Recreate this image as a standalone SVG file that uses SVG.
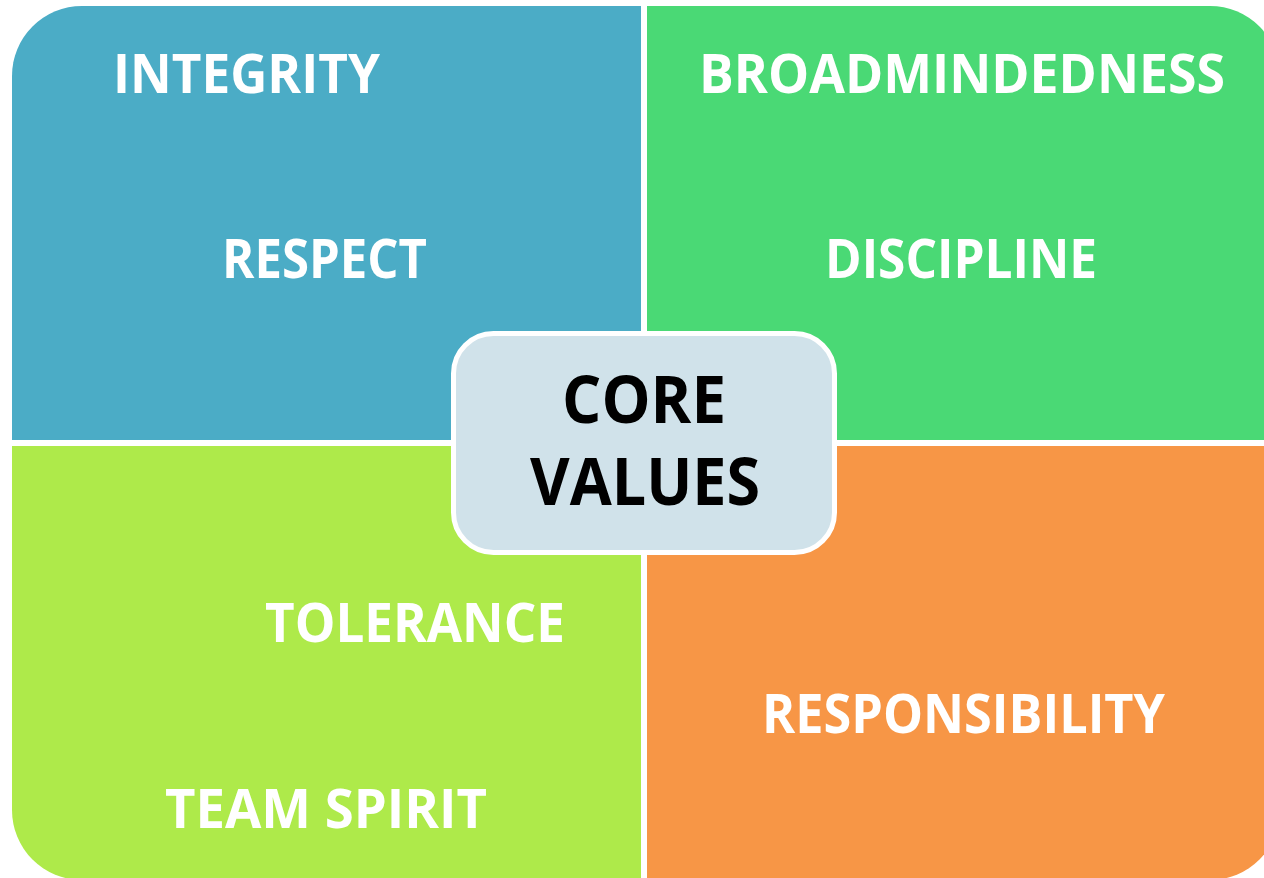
<svg xmlns="http://www.w3.org/2000/svg" width="1264" height="878" viewBox="0 0 1264 878">
  <style>
    .lbl { font-family: "Open Sans", "Liberation Sans", sans-serif; font-weight: bold; font-size: 54px; fill: #ffffff; }
    .core { font-family: "Open Sans", "Liberation Sans", sans-serif; font-weight: bold; font-size: 67px; fill: #000000; text-anchor: middle; }
  </style>
  <rect width="1264" height="878" fill="#ffffff"/>
  <g id="integrity-respect">
    <path d="M12,440 L12,76 A70,70 0 0 1 82,6 L641,6 L641,440 Z" fill="#4bacc6"/>
    <text class="lbl" x="113" y="93" textLength="267" lengthAdjust="spacingAndGlyphs">INTEGRITY</text>
    <text class="lbl" x="222" y="278" textLength="205" lengthAdjust="spacingAndGlyphs">RESPECT</text>
  </g>
  <g id="broadmindedness-discipline">
    <path d="M647,6 L1210,6 A70,70 0 0 1 1280,76 L1280,440 L647,440 Z" fill="#4ad975"/>
    <text class="lbl" x="699" y="93" textLength="526" lengthAdjust="spacingAndGlyphs">BROADMINDEDNESS</text>
    <text class="lbl" x="825" y="278" textLength="272" lengthAdjust="spacingAndGlyphs">DISCIPLINE</text>
  </g>
  <g id="tolerance-teamspirit">
    <path d="M12,446 L641,446 L641,880 L82,880 A70,70 0 0 1 12,810 Z" fill="#aeea4a"/>
    <text class="lbl" x="265" y="642" textLength="300" lengthAdjust="spacingAndGlyphs">TOLERANCE</text>
    <text class="lbl" x="165" y="828" textLength="322" lengthAdjust="spacingAndGlyphs">TEAM SPIRIT</text>
  </g>
  <g id="responsibility">
    <path d="M647,446 L1280,446 L1280,810 A70,70 0 0 1 1210,880 L647,880 Z" fill="#f79646"/>
    <text class="lbl" x="762" y="733" textLength="403" lengthAdjust="spacingAndGlyphs">RESPONSIBILITY</text>
  </g>
  <g id="core-values">
    <rect x="453.5" y="333.5" width="381" height="219" rx="40" ry="40" fill="#d0e2ea" stroke="#ffffff" stroke-width="5"/>
    <text class="core" x="644" y="423" textLength="164" lengthAdjust="spacingAndGlyphs">CORE</text>
    <text class="core" x="645" y="505" textLength="230" lengthAdjust="spacingAndGlyphs">VALUES</text>
  </g>
  <g id="connectors"/>
</svg>
